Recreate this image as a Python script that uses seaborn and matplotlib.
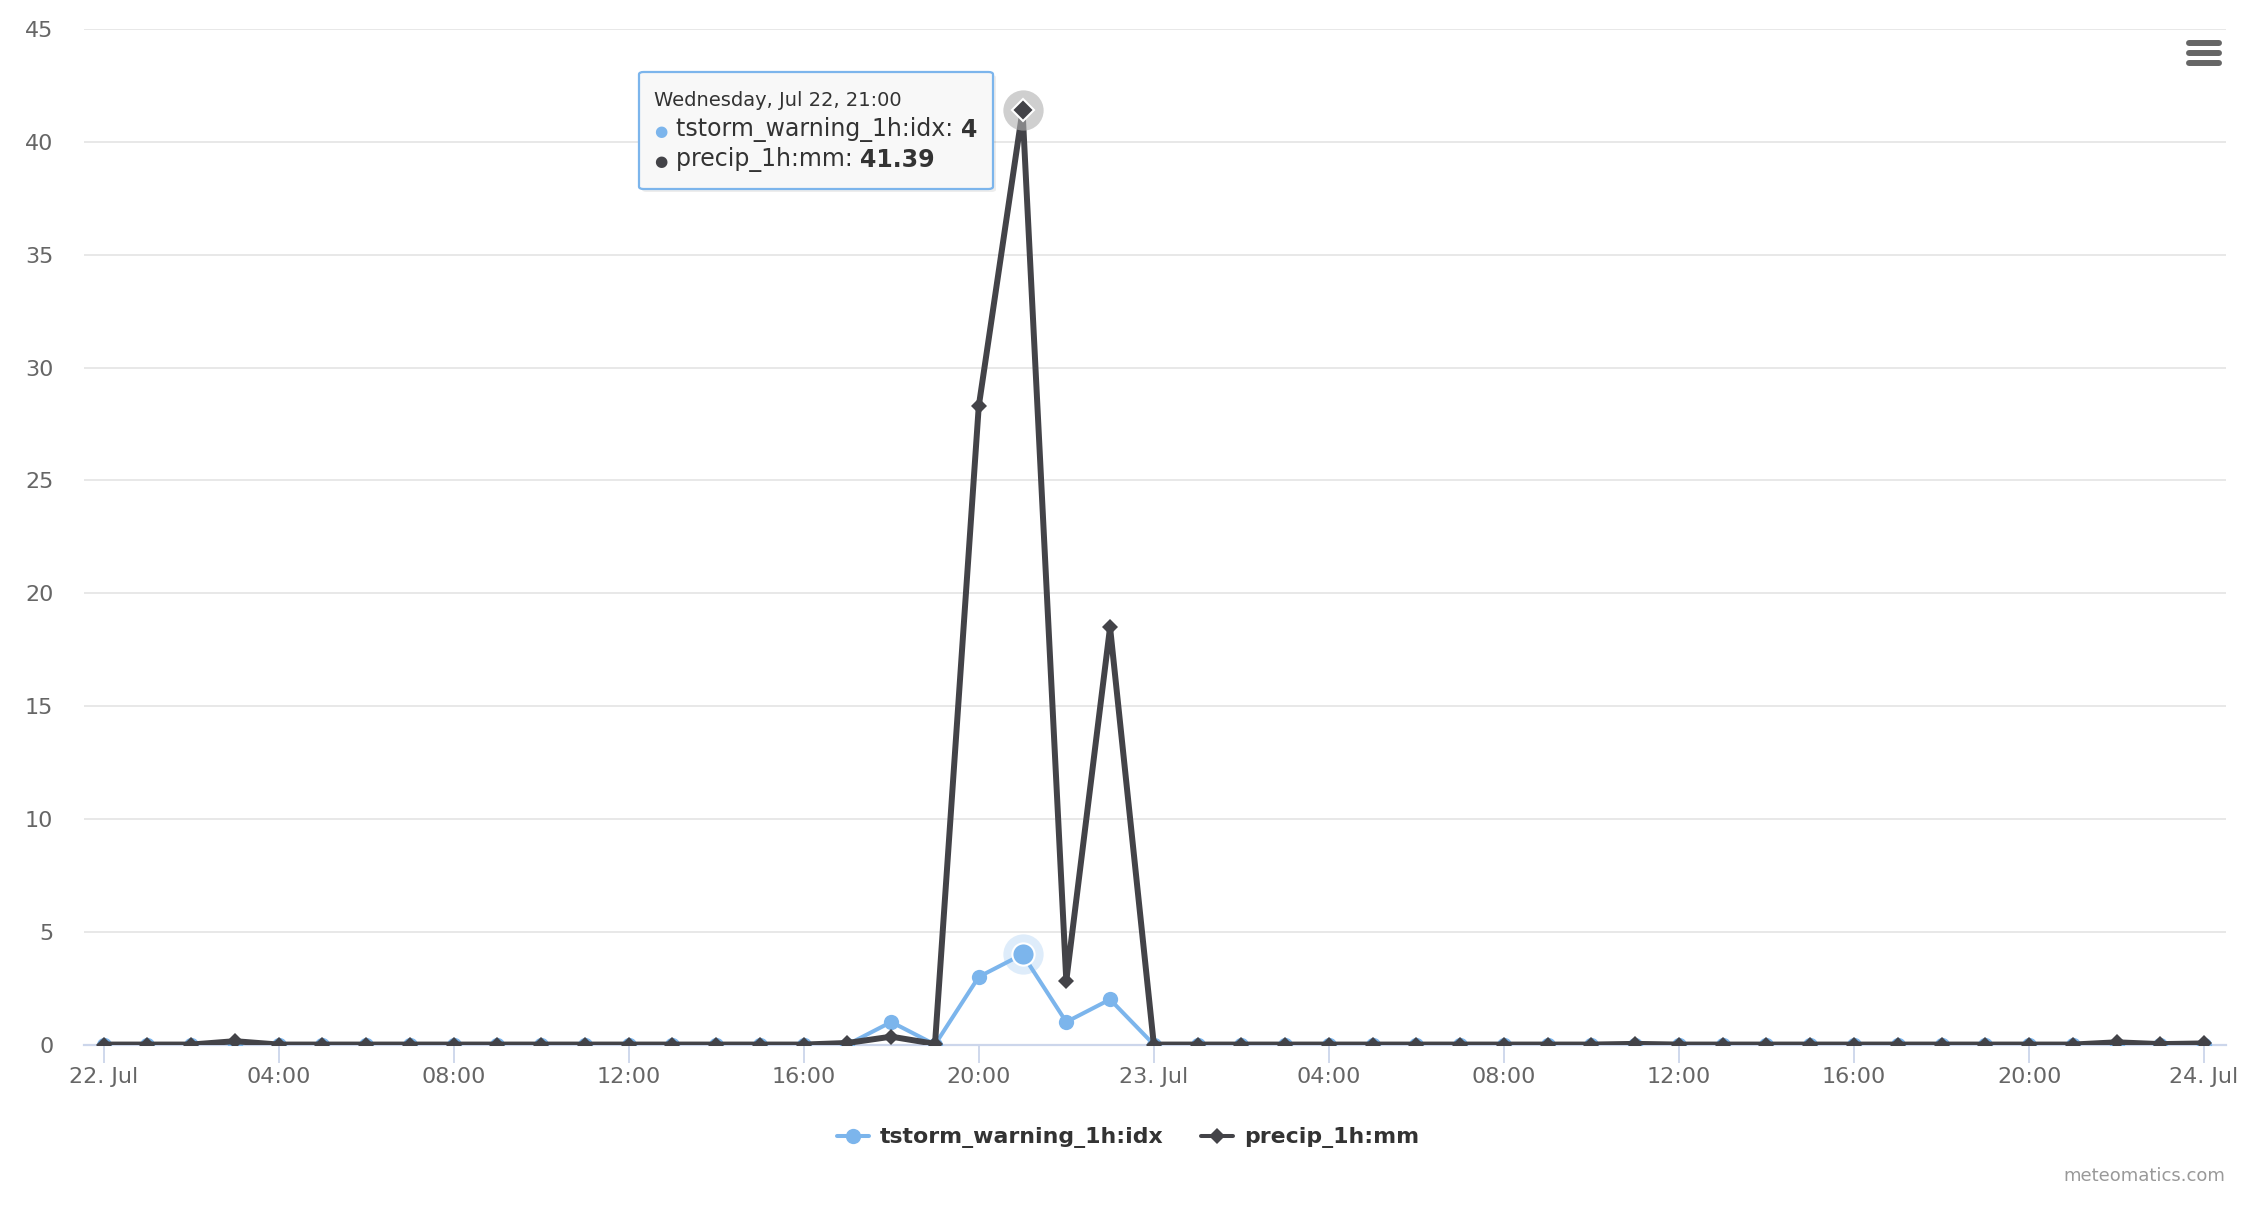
import numpy as np
import pandas as pd
import seaborn as sns
import matplotlib.pyplot as plt
import matplotlib.dates as mdates
from matplotlib.lines import Line2D
from matplotlib.patches import FancyBboxPatch

# hourly values, 22 Jul 00:00 -> 24 Jul 00:00
times = pd.date_range("2020-07-22 00:00", periods=49, freq="h")
tstorm_idx = [0, 0, 0, 0, 0, 0, 0, 0, 0, 0, 0, 0, 0, 0, 0, 0, 0, 0, 1, 0, 3, 4, 1, 2,
              0, 0, 0, 0, 0, 0, 0, 0, 0, 0, 0, 0, 0, 0, 0, 0, 0, 0, 0, 0, 0, 0, 0, 0, 0]
precip_mm = [0, 0, 0, 0.15, 0, 0, 0, 0, 0, 0, 0, 0, 0, 0, 0, 0, 0, 0.07, 0.35, 0.03,
             28.29, 41.39, 2.83, 18.49,
             0, 0, 0, 0, 0, 0, 0, 0, 0, 0, 0, 0.03, 0, 0, 0, 0, 0, 0, 0, 0, 0, 0, 0.1, 0.02, 0.05]
series_names = ["tstorm_warning_1h:idx", "precip_1h:mm"]
hover_idx = 21

BLUE = "#7cb5ec"
DARK = "#434348"

sns.set_theme(style="white")
plt.rcParams["font.family"] = ["DejaVu Sans"]

fig = plt.figure(figsize=(22.56, 12.08), dpi=100)
ax = fig.add_axes([0.0372, 0.1353, 0.9495, 0.8407])

sns.lineplot(x=times, y=tstorm_idx, ax=ax, color=BLUE, linewidth=2.9, marker="o",
             markersize=11, markeredgewidth=0, zorder=3)
sns.lineplot(x=times, y=precip_mm, ax=ax, color=DARK, linewidth=4.3, marker="D",
             markersize=8.5, markeredgewidth=0, zorder=4)

# hover state at 21:00
ht = times[hover_idx]
ax.plot([ht], [tstorm_idx[hover_idx]], "o", ms=29, color=BLUE, alpha=0.25, mew=0, zorder=5)
ax.plot([ht], [tstorm_idx[hover_idx]], "o", ms=16, color=BLUE, mec="white", mew=1.5, zorder=6)
ax.plot([ht], [precip_mm[hover_idx]], "o", ms=29, color="#b0b0b0", alpha=0.6, mew=0, zorder=5)
ax.plot([ht], [precip_mm[hover_idx]], "D", ms=11, color=DARK, mec="white", mew=1.5, zorder=6)

ax.set_ylim(0, 45)
ax.set_yticks(range(0, 46, 5))
ax.set_xlim(times[0] - pd.Timedelta(hours=0.448), times[0] + pd.Timedelta(hours=48.5))
ax.xaxis.set_major_locator(mdates.HourLocator(byhour=range(0, 24, 4)))


def fmt(x, pos):
    d = mdates.num2date(x)
    return d.strftime("%d. %b") if d.hour == 0 else d.strftime("%H:%M")


ax.xaxis.set_major_formatter(plt.FuncFormatter(fmt))
ax.grid(axis="y", color="#e6e6e6", linewidth=1.3)
ax.grid(axis="x", visible=False)
for s in ["top", "right", "left"]:
    ax.spines[s].set_visible(False)
ax.spines["bottom"].set_color("#ccd6eb")
ax.spines["bottom"].set_linewidth(1.6)
ax.spines["bottom"].set_zorder(1)
ax.tick_params(axis="y", length=0, pad=22, labelsize=16, labelcolor="#666666")
ax.tick_params(axis="x", length=13, width=1.3, color="#ccd6eb", pad=3,
               labelsize=16, labelcolor="#666666", direction="out", bottom=True)
ax.set_xlabel("")
ax.set_ylabel("")

# legend
handles = [
    Line2D([], [], color=BLUE, linewidth=2.9, marker="o", markersize=11, markeredgewidth=0),
    Line2D([], [], color=DARK, linewidth=2.9, marker="D", markersize=8, markeredgewidth=0),
]
fig.legend(handles, series_names, loc="center", bbox_to_anchor=(0.5, 0.058), ncol=2,
           frameon=False, handlelength=1.45, columnspacing=1.7, handletextpad=0.5,
           prop={"weight": "bold", "size": 15.8}, labelcolor="#333333")

# tooltip
W, H = 2256, 1208
x0, y0, x1, y1 = 639, 72, 993, 189
shadow = FancyBboxPatch(((x0 + 3) / W, 1 - (y1 + 3) / H), (x1 - x0) / W, (y1 - y0) / H,
                        boxstyle="round,pad=0,rounding_size=0.002", transform=fig.transFigure,
                        facecolor="#000000", alpha=0.07, edgecolor="none", zorder=9)
box = FancyBboxPatch((x0 / W, 1 - y1 / H), (x1 - x0) / W, (y1 - y0) / H,
                     boxstyle="round,pad=0,rounding_size=0.002", transform=fig.transFigure,
                     facecolor="#f8f8f8", edgecolor=BLUE, linewidth=1.6, zorder=10)
fig.add_artist(shadow)
fig.add_artist(box)
fig.text(654 / W, 1 - 101 / H, "Wednesday, Jul 22, 21:00", fontsize=14, color="#333333",
         va="center", ha="left", zorder=11)
fig.text(661 / W, 1 - 131 / H, "●", fontsize=11, color=BLUE, va="center", ha="center", zorder=11)
fig.text(676 / W, 1 - 130 / H, "tstorm_warning_1h:idx: ", fontsize=17, color="#333333",
         va="center", ha="left", zorder=11)
fig.text(661 / W, 1 - 161 / H, "●", fontsize=11, color=DARK, va="center", ha="center", zorder=11)
fig.text(676 / W, 1 - 160 / H, "precip_1h:mm: ", fontsize=17, color="#333333",
         va="center", ha="left", zorder=11)
fig.canvas.draw()
r = fig.canvas.get_renderer()
for t, val in zip(fig.texts[-3::2], ["4", "41.39"]):
    bb = t.get_window_extent(r)
    fig.text(bb.x1 / W, t.get_position()[1], val, fontsize=17, fontweight="bold",
             color="#333333", va="center", ha="left", zorder=11)

# menu icon
for yy in [43, 53, 63]:
    fig.add_artist(Line2D([2189 / W, 2219 / W], [1 - yy / H] * 2, transform=fig.transFigure,
                          color="#666666", linewidth=4.3, solid_capstyle="round"))

fig.text(2225 / W, 1 - 1176 / H, "meteomatics.com", fontsize=13, color="#999999",
         ha="right", va="center")

fig.savefig("out.png", dpi=100)
